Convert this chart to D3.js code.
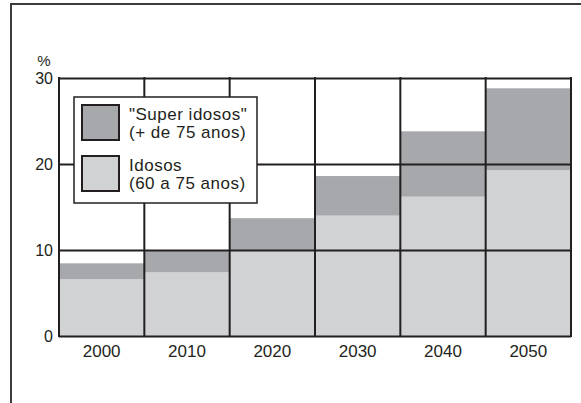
<!DOCTYPE html>
<html>
<head>
<meta charset="utf-8">
<script src="https://cdn.jsdelivr.net/npm/d3@7"></script>
<style>
  body { margin: 0; background: #fff; }
  svg { display: block; font-family: "Liberation Sans", Arial, sans-serif; }
</style>
</head>
<body>
<div class="chart"></div>
<script>
var years = ["2000", "2010", "2020", "2030", "2040", "2050"];
var idosos = [6.6, 7.4, 10.0, 14.0, 16.2, 19.3];       // 60 a 75 anos
var superIdosos = [1.85, 2.5, 3.7, 4.6, 7.6, 9.5];      // + de 75 anos
var yTicks = [0, 10, 20, 30];
var legendLabels = [["\"Super idosos\"", "(+ de 75 anos)"], ["Idosos", "(60 a 75 anos)"]];

var W = 581, H = 403;
var margin = {top: 78, right: 10, bottom: 67, left: 59};
var ink = "#231f20", darkFill = "#a7a8ab", lightFill = "#d1d2d4";

var svg = d3.select(".chart").append("svg")
    .attr("width", W)
    .attr("height", H);

// outer frame (runs off the right and bottom of the picture)
svg.append("rect")
    .attr("x", 11).attr("y", 4)
    .attr("width", 700).attr("height", 600)
    .attr("fill", "none")
    .attr("stroke", "#3c3c3c")
    .attr("stroke-width", 2);

var x = d3.scaleBand()
    .domain(years)
    .range([margin.left, 571])
    .padding(0);

var y = d3.scaleLinear()
    .domain([0, 30])
    .range([336, margin.top]);

var rows = years.map(function (yr, i) {
    return {year: yr, idosos: idosos[i], superIdosos: superIdosos[i]};
});
var stack = d3.stack().keys(["idosos", "superIdosos"]);
var series = stack(rows);
var fills = {idosos: lightFill, superIdosos: darkFill};

// Draw bars
svg.append("g").selectAll("g")
    .data(series)
    .enter().append("g")
    .attr("fill", function (d) { return fills[d.key]; })
    .selectAll("rect")
    .data(function (d) { return d; })
    .enter().append("rect")
    .attr("x", function (d) { return x(d.data.year); })
    .attr("width", x.bandwidth())
    .attr("y", function (d) { return y(d[1]); })
    .attr("height", function (d) { return y(d[0]) - y(d[1]); });

// horizontal grid + y labels
var y_g = svg.append("g")
    .attr("transform", "translate(" + margin.left + ",0)")
    .call(d3.axisLeft(y)
        .tickValues(yTicks)
        .tickSize(-(571 - margin.left))
        .tickPadding(6));
y_g.select(".domain").remove();
y_g.selectAll("line")
    .attr("stroke", ink)
    .attr("stroke-width", 2);
y_g.selectAll("text")
    .attr("fill", ink)
    .style("font-size", "16px")
    .attr("dy", "0.34em");

// vertical grid at column edges
var edges = years.map(function (d) { return x(d); }).concat([x.range()[1]]);
svg.append("g").selectAll("line")
    .data(edges)
    .enter().append("line")
    .attr("x1", function (d) { return d; })
    .attr("x2", function (d) { return d; })
    .attr("y1", y(30) - 1)
    .attr("y2", y(0) + 1)
    .attr("stroke", ink)
    .attr("stroke-width", 2);

// year labels
svg.append("g").selectAll("text")
    .data(years)
    .enter().append("text")
    .attr("x", function (d) { return x(d) + x.bandwidth() / 2; })
    .attr("y", 357)
    .attr("text-anchor", "middle")
    .attr("fill", ink)
    .style("font-size", "17px")
    .text(function (d) { return d; });

// unit
svg.append("text")
    .attr("x", 44).attr("y", 66)
    .attr("text-anchor", "middle")
    .attr("fill", ink)
    .style("font-size", "15px")
    .text("%");

// Legend
var legend = svg.append("g");
legend.append("rect")
    .attr("x", 74).attr("y", 97)
    .attr("width", 183).attr("height", 106)
    .attr("fill", "#fff")
    .attr("stroke", ink)
    .attr("stroke-width", 1.5);

var items = legend.selectAll("g.item")
    .data([darkFill, lightFill])
    .enter().append("g")
    .attr("class", "item")
    .attr("transform", function (d, i) { return "translate(0," + (i * 51) + ")"; });
items.append("rect")
    .attr("x", 82).attr("y", 105)
    .attr("width", 37).attr("height", 35)
    .attr("fill", function (d) { return d; })
    .attr("stroke", ink)
    .attr("stroke-width", 2);
items.each(function (d, i) {
    var t = d3.select(this).append("text")
        .attr("fill", ink)
        .style("font-size", "17px")
        .style("letter-spacing", "0.5px");
    legendLabels[i].forEach(function (line, j) {
        t.append("tspan")
            .attr("x", 129)
            .attr("y", 120 + j * 18)
            .text(line);
    });
});
</script>
</body>
</html>
